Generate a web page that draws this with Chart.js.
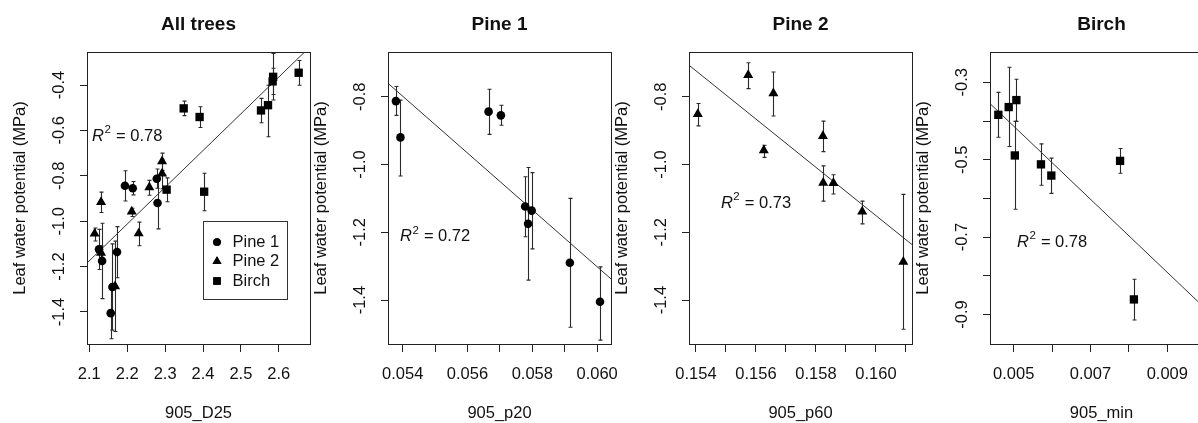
<!DOCTYPE html>
<html><head><meta charset="utf-8">
<script src="https://cdn.jsdelivr.net/npm/chart.js@4.4.1/dist/chart.umd.min.js"></script>
<style>
html,body{margin:0;padding:0;background:#fff;overflow:hidden;width:1198px;height:423px;position:relative;}
canvas{position:absolute;top:0;}
</style></head><body>
<canvas id="c1" width="340" height="423" style="left:0px"></canvas>
<canvas id="c2" width="340" height="423" style="left:301px"></canvas>
<canvas id="c3" width="340" height="423" style="left:602px"></canvas>
<canvas id="c4" width="340" height="423" style="left:903px"></canvas>
<script>
const FONT = "'Liberation Sans', Arial, sans-serif";
const INK = '#111';

// ---- Pine 1 ----
const pine1LWP = [-0.813, -0.920, -0.844, -0.855, -1.124, -1.175, -1.136, -1.290, -1.405];
const pine1Lo  = [-0.855, -1.034, -0.911, -0.884, -1.213, -1.341, -1.249, -1.480, -1.518];
const pine1Hi  = [-0.770, -0.810, -0.778, -0.825, -1.036, -1.009, -1.024, -1.100, -1.302];
const pine1D25 = [2.278, 2.280, 2.194, 2.2145, 2.1256, 2.1338, 2.1731, 2.161, 2.1565];
const pine1P20 = [0.05379, 0.05393, 0.05665, 0.05703, 0.05778, 0.05787, 0.05798, 0.05916, 0.06009];

// ---- Pine 2 ----
const pine2LWP = [-0.851, -0.736, -0.958, -0.790, -0.916, -1.054, -1.055, -1.139, -1.287];
const pine2Lo  = [-0.886, -0.776, -0.979, -0.857, -0.962, -1.108, -1.087, -1.175, -1.486];
const pine2Hi  = [-0.820, -0.700, -0.943, -0.727, -0.872, -1.004, -1.030, -1.108, -1.088];
const pine2D25 = [2.2583, 2.292, 2.212, 2.292, 2.131, 2.2303, 2.114, 2.131, 2.168];
const pine2P60 = [0.15406, 0.15574, 0.15626, 0.15658, 0.15823, 0.15824, 0.15858, 0.15954, 0.16091];

// ---- Birch ----
const birchLWP = [-0.384, -0.364, -0.346, -0.489, -0.512, -0.541, -0.503, -0.861, -0.870];
const birchLo  = [-0.442, -0.466, -0.401, -0.628, -0.566, -0.587, -0.535, -0.914, -0.954];
const birchHi  = [-0.326, -0.261, -0.292, -0.401, -0.459, -0.496, -0.471, -0.809, -0.789];
const birchD25 = [2.5837, 2.585, 2.6524, 2.5715, 2.553, 2.391, 2.349, 2.304, 2.403];
const birchMin = [0.0046, 0.00487, 0.00507, 0.00503, 0.00571, 0.00598, 0.00777, 0.00813];

// ---- fitted lines (end values) ----
const line1X = [2.0939, 2.6823],     line1Y = [-1.1843, -0.2317];
const line2X = [0.053546, 0.060429], line2Y = [-0.7605, -1.3375];
const line3X = [0.153767, 0.16120],  line3Y = [-0.7071, -1.2363];
const line4X = [0.004383, 0.010190], line4Y = [-0.355, -0.9036];

// ---- ticks ----
const xTicks1 = [2.1, 2.2, 2.3, 2.4, 2.5, 2.6];
const xTickLabels1 = ['2.1', '2.2', '2.3', '2.4', '2.5', '2.6'];
const xTicks2 = [0.054, 0.055, 0.056, 0.057, 0.058, 0.059, 0.060];
const xTickLabels2 = ['0.054', '', '0.056', '', '0.058', '', '0.060'];
const xTicks3 = [0.154, 0.155, 0.156, 0.157, 0.158, 0.159, 0.160, 0.161];
const xTickLabels3 = ['0.154', '', '0.156', '', '0.158', '', '0.160', ''];
const xTicks4 = [0.005, 0.006, 0.007, 0.008, 0.009, 0.010];
const xTickLabels4 = ['0.005', '', '0.007', '', '0.009', ''];
const yTicks1 = [-1.4, -1.2, -1.0, -0.8, -0.6, -0.4];
const yTickLabels1 = ['-1.4', '-1.2', '-1.0', '-0.8', '-0.6', '-0.4'];
const yTicks23 = [-1.4, -1.2, -1.0, -0.8];
const yTickLabels23 = ['-1.4', '-1.2', '-1.0', '-0.8'];
const yTicks4 = [-0.9, -0.8, -0.7, -0.6, -0.5, -0.4, -0.3];
const yTickLabels4 = ['-0.9', '', '-0.7', '', '-0.5', '', '-0.3'];

// ---- R² annotations ----
const r2Values = ['0.78', '0.72', '0.73', '0.78'];
const r2X = [2.2, 0.055, 0.156, 0.006];
const r2Y = [-0.62, -1.21, -1.11, -0.71];

const pts = (xs, ys) => xs.map((x, i) => ({x, y: ys[i]}));

const STYLE = {
  'Pine 1': {pointStyle: 'circle', radius: 4.3},
  'Pine 2': {pointStyle: 'triangle', radius: 5.8},
  'Birch': {pointStyle: 'rect', radius: 5.9}
};

function pointSet(label, xs, ys, lo, hi) {
  const st = STYLE[label];
  return {
    label, data: pts(xs, ys), errLo: lo, errHi: hi,
    pointStyle: st.pointStyle, pointRadius: st.radius,
    backgroundColor: '#000', borderColor: '#000', borderWidth: 0, showLine: false
  };
}
function lineSet(xs, ys) {
  return {label: 'fit', data: pts(xs, ys), showLine: true, pointRadius: 0,
          borderColor: '#333', borderWidth: 1, fill: false, isFit: true};
}

const rDecor = {
  id: 'rDecor',
  beforeDatasetsDraw(chart) {
    const {ctx} = chart; const xs = chart.scales.x, ys = chart.scales.y;
    ctx.save(); ctx.strokeStyle = '#2a2a2a'; ctx.lineWidth = 1.1;
    chart.data.datasets.forEach(ds => {
      if (!ds.errLo) return;
      ds.data.forEach((p, i) => {
        const x = Math.round(xs.getPixelForValue(p.x)) + 0.5;
        const y1 = ys.getPixelForValue(ds.errLo[i]), y2 = ys.getPixelForValue(ds.errHi[i]);
        ctx.beginPath();
        ctx.moveTo(x, y1); ctx.lineTo(x, y2);
        ctx.moveTo(x - 2, y1); ctx.lineTo(x + 2, y1);
        ctx.moveTo(x - 2, y2); ctx.lineTo(x + 2, y2);
        ctx.stroke();
      });
    });
    ctx.restore();
  },
  afterDraw(chart, args, opts) {
    const {ctx, chartArea: a} = chart; const xs = chart.scales.x, ys = chart.scales.y;
    ctx.save();
    // box
    ctx.strokeStyle = '#222'; ctx.lineWidth = 1;
    ctx.strokeRect(Math.round(a.left) + 0.5, Math.round(a.top) + 0.5,
                   Math.round(a.right - a.left), Math.round(a.bottom - a.top));
    // rotated y tick labels
    ctx.fillStyle = INK; ctx.font = '16.5px ' + FONT;
    ctx.textAlign = 'center'; ctx.textBaseline = 'middle';
    ys.ticks.forEach((t, i) => {
      const lab = opts.yLabels[i]; if (!lab) return;
      const y = ys.getPixelForValue(t.value);
      ctx.save(); ctx.translate(a.left - 28, y); ctx.rotate(-Math.PI / 2);
      ctx.fillText(lab, 0, 0); ctx.restore();
    });
    // R² text
    const cx = xs.getPixelForValue(opts.r2x), cy = ys.getPixelForValue(opts.r2y);
    const fR = 'italic 16.5px ' + FONT, fS = '11.5px ' + FONT, fN = '16.5px ' + FONT;
    const rest = ' = ' + opts.r2v;
    ctx.font = fR; const wR = ctx.measureText('R').width;
    ctx.font = fS; const w2 = ctx.measureText('2').width;
    ctx.font = fN; const wN = ctx.measureText(rest).width;
    let x0 = cx - (wR + w2 + 1 + wN) / 2; const base = cy + 5.8;
    ctx.textAlign = 'left'; ctx.textBaseline = 'alphabetic';
    ctx.font = fR; ctx.fillText('R', x0, base); x0 += wR + 0.5;
    ctx.font = fS; ctx.fillText('2', x0, base - 7.5); x0 += w2 + 0.5;
    ctx.font = fN; ctx.fillText(rest, x0, base);
    // legend
    if (opts.legend) {
      const L = opts.legend;
      const lx = Math.round(xs.getPixelForValue(L.x)) + 0.5, ly = Math.round(ys.getPixelForValue(L.y)) + 0.5;
      ctx.strokeStyle = '#333'; ctx.lineWidth = 1;
      ctx.strokeRect(lx, ly, 84, 78);
      const sets = chart.data.datasets.filter(d => !d.isFit);
      sets.forEach((d, i) => {
        const yy = ly + 20.5 + i * 19.5;
        ctx.fillStyle = '#000';
        Chart.helpers.drawPoint(ctx, {pointStyle: d.pointStyle, radius: d.pointRadius * 0.9, borderWidth: 0}, lx + 13.5, yy);
        ctx.fill();
        ctx.fillStyle = INK;
        ctx.font = '16.5px ' + FONT; ctx.textBaseline = 'middle'; ctx.textAlign = 'left';
        ctx.fillText(d.label, lx + 29, yy);
      });
    }
    ctx.restore();
  }
};

function makePanel(id, p) {
  return new Chart(document.getElementById(id), {
    type: 'scatter',
    data: {datasets: p.datasets},
    options: {
      responsive: false, animation: false, events: [], devicePixelRatio: 1,
      layout: {padding: {left: 0, right: 30, top: 0, bottom: 0}},
      plugins: {
        legend: {display: false}, tooltip: {enabled: false},
        title: {display: true, text: p.title, fullSize: false, color: INK,
                font: {family: FONT, size: 19, weight: 'bold'}, padding: {top: 13.6, bottom: 15.6}},
        rDecor: {yLabels: p.yLabels, r2x: p.r2x, r2y: p.r2y, r2v: p.r2v, legend: p.legend}
      },
      scales: {
        x: {
          type: 'linear', min: p.xMin, max: p.xMax,
          afterBuildTicks: s => { s.ticks = p.xTicks.map(v => ({value: v})); },
          afterFit: s => { s.height = 79; s.paddingLeft = 0; s.paddingRight = 0; },
          ticks: {autoSkip: false, maxRotation: 0, minRotation: 0, padding: 13, color: INK,
                  font: {family: FONT, size: 16.5}, callback: (v, i) => p.xLabels[i]},
          grid: {drawOnChartArea: false, drawTicks: true, tickLength: 8, color: '#222', lineWidth: 1},
          border: {display: false},
          title: {display: true, text: p.xTitle, color: INK, font: {family: FONT, size: 16.5},
                  padding: {top: 0, bottom: 0}}
        },
        y: {
          type: 'linear', min: p.yMin, max: p.yMax,
          afterBuildTicks: s => { s.ticks = p.yTicks.map(v => ({value: v})); },
          afterFit: s => { s.width = 87; s.paddingTop = 0; s.paddingBottom = 0; },
          ticks: {display: false},
          grid: {drawOnChartArea: false, drawTicks: true, tickLength: 7, color: '#222', lineWidth: 1},
          border: {display: false},
          title: {display: true, text: 'Leaf water potential (MPa)', color: INK,
                  font: {family: FONT, size: 16.5}, padding: {top: 11, bottom: 0}}
        }
      }
    },
    plugins: [rDecor]
  });
}

makePanel('c1', {
  title: 'All trees', xTitle: '905_D25',
  xMin: 2.0939, xMax: 2.6823, yMin: -1.541, yMax: -0.2546,
  xTicks: xTicks1, xLabels: xTickLabels1, yTicks: yTicks1, yLabels: yTickLabels1,
  r2x: r2X[0], r2y: r2Y[0], r2v: r2Values[0],
  legend: {x: 2.4, y: -1.0},
  datasets: [
    pointSet('Pine 1', pine1D25, pine1LWP, pine1Lo, pine1Hi),
    pointSet('Pine 2', pine2D25, pine2LWP, pine2Lo, pine2Hi),
    pointSet('Birch', birchD25, birchLWP, birchLo, birchHi),
    lineSet(line1X, line1Y)
  ]
});
makePanel('c2', {
  title: 'Pine 1', xTitle: '905_p20',
  xMin: 0.053546, xMax: 0.060429, yMin: -1.5295, yMax: -0.6681,
  xTicks: xTicks2, xLabels: xTickLabels2, yTicks: yTicks23, yLabels: yTickLabels23,
  r2x: r2X[1], r2y: r2Y[1], r2v: r2Values[1],
  datasets: [
    pointSet('Pine 1', pine1P20, pine1LWP, pine1Lo, pine1Hi),
    lineSet(line2X, line2Y)
  ]
});
makePanel('c3', {
  title: 'Pine 2', xTitle: '905_p60',
  xMin: 0.153767, xMax: 0.16120, yMin: -1.5295, yMax: -0.6681,
  xTicks: xTicks3, xLabels: xTickLabels3, yTicks: yTicks23, yLabels: yTickLabels23,
  r2x: r2X[2], r2y: r2Y[2], r2v: r2Values[2],
  datasets: [
    pointSet('Pine 2', pine2P60, pine2LWP, pine2Lo, pine2Hi),
    lineSet(line3X, line3Y)
  ]
});
makePanel('c4', {
  title: 'Birch', xTitle: '905_min',
  xMin: 0.004383, xMax: 0.010190, yMin: -0.9762, yMax: -0.2217,
  xTicks: xTicks4, xLabels: xTickLabels4, yTicks: yTicks4, yLabels: yTickLabels4,
  r2x: r2X[3], r2y: r2Y[3], r2v: r2Values[3],
  datasets: [
    pointSet('Birch', birchMin, birchLWP.slice(0, 8), birchLo.slice(0, 8), birchHi.slice(0, 8)),
    lineSet(line4X, line4Y)
  ]
});
</script>
</body></html>
